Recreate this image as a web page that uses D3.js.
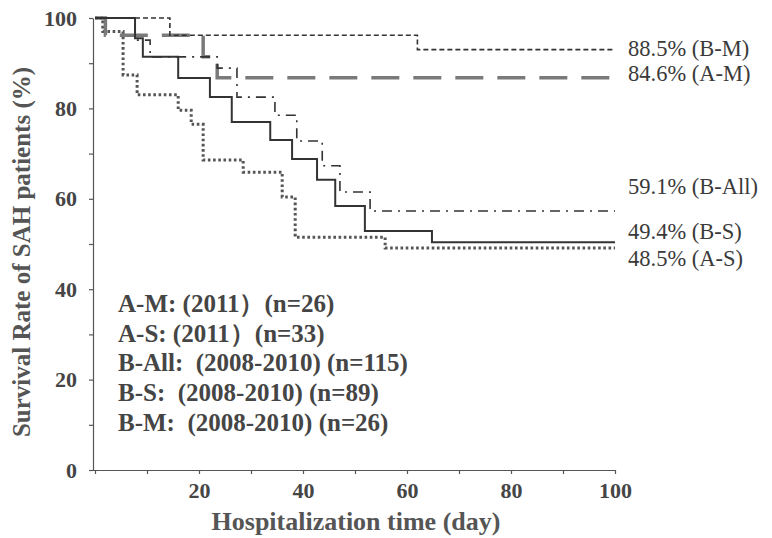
<!DOCTYPE html>
<html>
<head>
<meta charset="utf-8">
<script src="https://cdn.jsdelivr.net/npm/d3@7"></script>
<style>
  body { margin: 0; background: #fff; }
  svg text { font-family: "Liberation Serif", "Times New Roman", "DejaVu Serif", serif; }
</style>
</head>
<body>
<div id="root"></div>
<script>
// step points: day of change, survival after change (%)
const bmDays = [0, 14.4, 62, 100];
const bmSurv = [100, 96.2, 93.0, 93.0];

const amDays = [0, 2, 20.8, 23.5, 100];
const amSurv = [100, 96.2, 91.4, 86.8, 86.8];

const bsDays = [0, 7.7, 9.2, 16.0, 22.1, 26.3, 33.7, 37.9, 42.7, 46.2, 51.9, 64.8, 100];
const bsSurv = [100, 95.5, 91.4, 86.7, 82.5, 77.0, 73.0, 68.8, 64.2, 58.4, 52.9, 50.4, 50.4];

const baDays = [0, 7.7, 10.6, 23.5, 27.3, 34.6, 38.8, 43.7, 47.1, 52.9, 100];
const baSurv = [100, 95.1, 91.4, 88.9, 82.5, 78.5, 72.8, 67.3, 61.5, 57.3, 57.3];

const asDays = [0, 1.5, 5.4, 8.1, 16.0, 18.5, 20.8, 28.5, 36.0, 38.5, 55.8, 100];
const asSurv = [100, 97.0, 87.4, 83.0, 79.6, 76.5, 68.6, 65.9, 60.4, 51.5, 49.1, 49.1];

const endLabels = ['88.5% (B-M)', '84.6% (A-M)', '59.1% (B-All)', '49.4% (B-S)', '48.5% (A-S)'];
const endLabelY = [93.3, 87.8, 62.8, 52.9, 46.9];

const legendLines = [
    'A-M: (2011\uFF09(n=26)',
    'A-S: (2011\uFF09(n=33)',
    'B-All:  (2008-2010) (n=115)',
    'B-S:  (2008-2010) (n=89)',
    'B-M:  (2008-2010) (n=26)'
];

const xTicks = [0, 10, 20, 30, 40, 50, 60, 70, 80, 90, 100];
const yTicks = [0, 10, 20, 30, 40, 50, 60, 70, 80, 90, 100];

const width = 772;
const height = 538;

const svg = d3.select('#root')
    .append('svg')
    .attr('width', width)
    .attr('height', height);

const xScale = d3.scaleLinear().domain([0, 100]).range([95, 615]);
const yScale = d3.scaleLinear().domain([0, 100]).range([470, 18]);

const ink = '#454545';
const serif = '"Liberation Serif", "Times New Roman", "DejaVu Serif", serif';

// axes
const xAxis = d3.axisBottom(xScale)
    .tickValues(xTicks)
    .tickSize(4)
    .tickSizeOuter(0)
    .tickFormat(d => (d > 0 && d % 20 === 0) ? d : '');

const gx = svg.append('g')
    .attr('transform', `translate(0,${yScale(0)})`)
    .call(xAxis);
gx.select('.domain').attr('d', `M93,0.5H${xScale(100)}`);

const yAxis = d3.axisLeft(yScale)
    .tickValues(yTicks)
    .tickSize(4)
    .tickSizeOuter(0)
    .tickFormat(d => d % 20 === 0 ? d : '');

const gy = svg.append('g')
    .attr('transform', 'translate(93,0)')
    .call(yAxis);

svg.selectAll('g').attr('font-family', serif);
svg.selectAll('.domain, .tick line').attr('stroke', '#555').attr('stroke-width', 1.2);
svg.selectAll('.tick text')
    .attr('fill', ink)
    .style('font-family', serif)
    .style('font-size', '22px')
    .style('font-weight', 'bold');
gx.selectAll('.tick text').attr('dy', '0.95em');
gy.selectAll('.tick text').attr('x', -16);

svg.append('text')
    .attr('x', 356)
    .attr('y', 530)
    .attr('text-anchor', 'middle')
    .attr('fill', '#555')
    .style('font-family', serif)
    .style('font-size', '26px')
    .style('font-weight', 'bold')
    .text('Hospitalization time (day)');

svg.append('text')
    .attr('transform', 'translate(30,252) rotate(-90)')
    .attr('text-anchor', 'middle')
    .attr('fill', '#555')
    .style('font-family', serif)
    .style('font-size', '25px')
    .style('font-weight', 'bold')
    .text('Survival Rate of SAH patients (%)');

// curves
const line = d3.line()
    .x(d => xScale(d[0]))
    .y(d => yScale(d[1]))
    .curve(d3.curveStepAfter);

const series = [
    { days: asDays, surv: asSurv, color: '#555', w: 3, dash: '2.6,2.6' },
    { days: amDays, surv: amSurv, color: '#7a7a7a', w: 3.5, dash: '28,14' },
    { days: baDays, surv: baSurv, color: '#333', w: 1.6, dash: '10,6,2,6' },
    { days: bsDays, surv: bsSurv, color: '#333', w: 2, dash: null },
    { days: bmDays, surv: bmSurv, color: '#333', w: 1.6, dash: '5,3' }
];

series.forEach(s => {
    svg.append('path')
        .datum(d3.zip(s.days, s.surv))
        .attr('d', line)
        .attr('fill', 'none')
        .attr('stroke', s.color)
        .attr('stroke-width', s.w)
        .attr('stroke-dasharray', s.dash);
});

// end labels
svg.selectAll('.end-label')
    .data(endLabels)
    .enter()
    .append('text')
    .classed('end-label', true)
    .attr('x', 628)
    .attr('y', (d, i) => yScale(endLabelY[i]))
    .attr('dy', '0.35em')
    .attr('fill', '#3a3a3a')
    .style('font-family', serif)
    .style('font-size', '22.5px')
    .text(d => d);

// legend block
svg.selectAll('.legend-line')
    .data(legendLines)
    .enter()
    .append('text')
    .classed('legend-line', true)
    .attr('x', 118)
    .attr('y', (d, i) => 303 + i * 29.8)
    .attr('dy', '0.35em')
    .attr('xml:space', 'preserve')
    .attr('fill', ink)
    .style('font-family', serif)
    .style('font-size', '25px')
    .style('font-weight', 'bold')
    .style('white-space', 'pre')
    .text(d => d);
</script>
</body>
</html>
